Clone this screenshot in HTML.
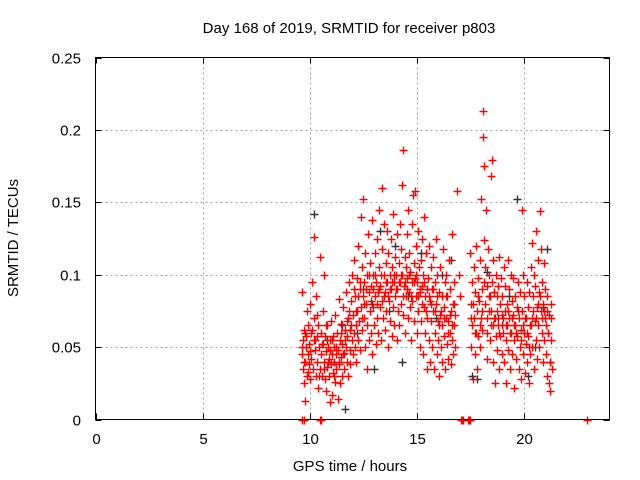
<!DOCTYPE html>
<html><head><meta charset="utf-8"><style>
body{margin:0;background:#fff;}
svg{display:block;font-family:"Liberation Sans",sans-serif;}
</style></head><body>
<svg id="chart" width="640" height="480" viewBox="0 0 640 480">
<rect width="640" height="480" fill="#fff"/>
<text x="349" y="33" font-size="15" text-anchor="middle">Day 168 of 2019, SRMTID for receiver p803</text>
<g id="grid"></g>
<g id="ticks"></g>
<g id="marks"></g>
<rect x="95.5" y="57.5" width="514" height="362" fill="none" stroke="#000" stroke-width="1"/>
<text x="350" y="471" font-size="15" text-anchor="middle">GPS time / hours</text>
<text x="0" y="0" font-size="15" text-anchor="middle" transform="translate(18,238) rotate(-90)">SRMTID / TECUs</text>
</svg>
<script>
const xTicks=[0,5,10,15,20];
const yTicks=[0,0.05,0.1,0.15,0.2,0.25];
const yTickLabels=["0","0.05","0.1","0.15","0.2","0.25"];
const redPoints=[
9.62,.045,9.65,.088,9.68,.035,9.70,.055,9.72,.025,9.75,.062,9.78,.04,9.8,.013,9.83,.05,9.86,.075,9.88,.03,9.9,.045,9.93,.065,9.96,.038,9.98,.052,10.0,.08,10.03,.028,10.05,.06,10.08,.042,10.1,.095,10.15,.035,10.18,.055,10.2,.126,10.22,.07,10.25,.048,10.28,.03,10.3,.085,10.33,.058,10.36,.04,10.38,.022,10.4,.065,10.43,.05,10.46,.112,10.48,.035,
10.52,.06,10.55,.045,10.58,.03,10.6,.075,10.63,.052,10.66,.04,10.68,.1,10.7,.028,10.73,.058,10.76,.047,10.78,.02,10.8,.036,10.83,.065,10.86,.05,10.88,.03,10.9,.042,10.93,.012,10.96,.055,10.98,.038,11.0,.068,11.03,.045,11.05,.017,11.08,.032,11.1,.058,11.12,.04,11.15,.05,11.18,.026,11.2,.072,11.22,.045,11.25,.035,11.28,.06,11.3,.014,11.33,.048,11.36,.083,11.38,.038,11.4,.055,11.43,.025,11.46,.066,11.48,.043,11.5,.052,11.53,.03,11.56,.078,11.58,.046,11.6,.035,11.63,.062,11.68,.05,11.7,.088,11.73,.04,11.76,.058,11.78,.03,11.8,.07,11.83,.095,11.86,.048,11.88,.062,11.9,.038,11.93,.082,11.96,.055,11.98,.1,
12.0,.045,12.03,.072,12.06,.06,12.08,.11,12.1,.05,12.13,.085,12.16,.065,12.18,.04,12.2,.098,12.23,.075,12.26,.055,12.28,.12,12.3,.068,12.33,.09,12.36,.048,12.38,.14,12.4,.078,12.43,.105,12.46,.062,12.48,.085,12.5,.152,12.53,.07,12.56,.095,12.58,.05,12.6,.115,12.63,.08,12.66,.035,12.68,.1,12.7,.065,12.73,.128,12.76,.088,12.78,.055,12.8,.075,12.83,.108,12.86,.06,12.88,.092,12.9,.045,12.93,.138,12.96,.078,12.98,.1,13.0,.065,13.03,.115,13.06,.085,13.08,.052,13.1,.095,13.13,.07,13.16,.125,13.18,.088,13.2,.06,13.23,.105,13.26,.145,13.28,.078,13.3,.092,13.33,.055,13.36,.118,13.38,.082,13.4,.16,13.43,.07,13.46,.1,13.48,.135,
13.5,.088,13.53,.062,13.56,.108,13.58,.075,13.6,.13,13.63,.095,13.66,.05,13.68,.115,13.7,.082,13.73,.1,13.76,.068,13.78,.125,13.8,.09,13.83,.058,13.86,.105,13.88,.078,13.9,.142,13.93,.095,13.96,.065,13.98,.112,14.0,.085,14.03,.1,14.06,.055,14.08,.128,14.1,.09,14.13,.075,14.16,.108,14.18,.065,14.2,.095,14.23,.135,14.26,.08,14.28,.118,14.3,.1,14.33,.162,14.36,.072,14.38,.186,14.4,.092,14.43,.112,14.46,.06,14.48,.105,14.5,.085,14.53,.128,14.56,.098,14.58,.07,14.6,.145,14.63,.088,14.66,.115,14.68,.078,14.7,.102,14.73,.055,14.76,.095,14.78,.135,14.8,.082,14.83,.155,14.86,.108,14.88,.068,14.9,.098,14.93,.158,14.96,.085,14.98,.12,15.0,.06,15.03,.095,15.06,.13,15.08,.075,15.1,.105,15.13,.05,15.16,.088,15.18,.11,15.2,.068,15.23,.125,15.26,.092,15.28,.045,15.3,.1,15.33,.078,15.36,.14,15.38,.085,15.4,.06,15.43,.115,15.46,.09,15.48,.035,
15.5,.07,15.53,.098,15.56,.055,15.58,.12,15.6,.082,15.63,.04,15.66,.105,15.68,.068,15.7,.09,15.73,.05,15.76,.112,15.78,.075,15.8,.035,15.83,.095,15.86,.06,15.88,.125,15.9,.08,15.93,.045,15.96,.1,15.98,.068,16.0,.055,16.03,.088,16.06,.03,16.08,.072,16.1,.105,16.13,.05,16.16,.085,16.18,.065,16.2,.04,16.23,.118,16.26,.078,16.28,.058,16.3,.095,16.33,.035,16.36,.07,16.38,.1,16.4,.052,16.43,.085,16.46,.042,16.48,.068,16.5,.11,16.53,.06,16.56,.09,16.58,.038,16.6,.075,16.63,.055,16.66,.128,16.68,.08,16.7,.045,16.73,.095,16.76,.065,16.78,.072,16.8,.05,
16.9,.158,16.95,.1,17.0,.085,
17.5,.115,17.52,.08,17.55,.05,17.58,.095,17.6,.065,17.63,.028,17.66,.105,17.68,.07,17.7,.045,17.73,.088,17.76,.06,17.78,.12,17.8,.075,17.83,.035,17.86,.098,17.88,.058,17.9,.082,17.93,.11,17.96,.05,17.98,.07,18.0,.152,18.03,.09,18.05,.062,18.08,.195,18.1,.213,18.12,.175,18.15,.124,18.18,.08,18.2,.105,18.23,.145,18.26,.06,18.28,.092,18.3,.042,18.33,.118,18.36,.075,18.38,.1,18.4,.055,18.43,.085,18.46,.168,18.48,.065,18.5,.179,18.53,.095,18.56,.04,18.58,.11,18.6,.07,18.63,.088,18.66,.025,18.68,.058,18.7,.1,18.73,.075,18.76,.048,18.78,.092,18.8,.065,18.83,.112,18.86,.035,18.88,.08,18.9,.058,18.93,.098,18.96,.072,18.98,.045,
19.0,.085,19.03,.06,19.06,.105,19.08,.04,19.1,.075,19.13,.092,19.16,.055,19.18,.025,19.2,.08,19.23,.065,19.26,.11,19.28,.048,19.3,.09,19.33,.07,19.36,.035,19.38,.1,19.4,.06,19.43,.082,19.46,.045,19.48,.072,19.5,.098,19.53,.055,19.56,.022,19.58,.085,19.6,.065,19.63,.042,19.68,.078,19.7,.058,19.73,.095,19.76,.035,19.78,.07,19.8,.05,19.83,.088,19.86,.062,19.88,.028,19.9,.145,19.93,.075,19.96,.045,19.98,.1,20.0,.06,20.03,.085,20.06,.032,20.08,.07,20.1,.052,20.13,.095,20.16,.04,20.18,.078,20.2,.058,20.23,.025,20.26,.088,20.28,.065,20.3,.045,20.33,.105,20.36,.07,20.38,.122,20.4,.05,20.43,.085,20.46,.035,20.48,.1,20.5,.068,20.53,.092,20.56,.055,20.58,.13,20.6,.078,20.63,.042,20.66,.11,20.68,.065,20.7,.088,20.73,.05,20.76,.144,20.78,.075,20.8,.118,20.83,.06,20.86,.095,20.88,.04,20.9,.08,20.93,.108,20.96,.055,20.98,.07,21.0,.09,21.03,.045,21.06,.075,21.08,.03,21.1,.085,21.13,.06,21.16,.025,21.18,.072,21.2,.04,21.23,.02,21.26,.08,21.28,.055,21.3,.035,
9.65,0,9.72,0,10.48,0,10.52,0,17.05,0,17.1,0,17.15,0,17.38,0,17.45,0,17.5,0,22.95,0];
const extraRed=[
9.66,.05,9.74,.04,9.82,.058,9.91,.033,10.02,.047,10.11,.062,10.27,.055,10.35,.072,10.44,.03,10.57,.052,10.65,.035,10.74,.065,10.85,.04,10.95,.048,11.06,.055,11.14,.03,11.24,.05,11.35,.04,11.44,.06,11.55,.045,11.64,.055,11.75,.068,11.85,.075,11.95,.065,12.05,.09,12.15,.075,12.25,.085,12.35,.095,12.45,.07,12.55,.08,12.65,.09,12.75,.1,12.85,.082,12.95,.09,13.05,.1,13.15,.08,13.25,.09,13.35,.1,13.45,.085,13.55,.095,13.65,.085,13.75,.09,13.85,.095,13.95,.1,14.05,.09,14.15,.095,14.25,.1,14.35,.085,14.45,.095,14.55,.09,14.65,.1,14.75,.085,14.85,.095,14.95,.1,15.05,.085,15.15,.09,15.25,.08,15.35,.095,15.45,.075,15.55,.085,15.65,.08,15.75,.09,15.85,.075,15.95,.085,16.05,.065,16.15,.075,16.25,.07,16.35,.085,16.45,.06,16.55,.072,16.65,.065,16.75,.08,17.54,.07,17.64,.08,17.74,.06,17.85,.085,17.95,.065,18.06,.075,18.16,.095,18.26,.07,18.36,.085,18.46,.075,18.56,.065,18.66,.07,18.76,.085,18.86,.06,18.96,.065,19.05,.07,19.15,.065,19.25,.075,19.35,.06,19.45,.07,19.55,.065,19.65,.06,19.75,.075,19.85,.055,19.95,.065,20.05,.07,20.15,.06,20.25,.05,20.35,.065,20.45,.075,20.55,.07,20.65,.08,20.75,.085,20.85,.07,20.95,.075,21.05,.065,21.15,.06,21.25,.07];
const blackPoints=[10.18,.142,11.66,.007,19.66,.152,21.1,.118,13.3,.13,14.0,.12,12.5,.09,15.5,.09,16.2,.1,18.8,.07,20.5,.05,17.8,.028,11.5,.065,10.8,.055,14.6,.085,15.9,.07,13.7,.075,20.9,.078,12.2,.06,19.3,.085,16.6,.11,18.3,.102,21.2,.04,9.8,.06,14.3,.04,13.0,.035,20.2,.03,17.6,.03,15.2,.115,12.9,.08];
const X0=95.5,X1=609.5,Y0=419.5,Y1=57.5,XMAX=24,YMAX=0.25;
function xs(t){return X0+(X1-X0)*t/XMAX;}
function ys(v){return Y0-(Y0-Y1)*v/YMAX;}
const NS="http://www.w3.org/2000/svg";
const grid=document.getElementById('grid'),ticks=document.getElementById('ticks'),marks=document.getElementById('marks');
function line(g,x1,y1,x2,y2,st,dash){const l=document.createElementNS(NS,'line');l.setAttribute('x1',x1);l.setAttribute('y1',y1);l.setAttribute('x2',x2);l.setAttribute('y2',y2);l.setAttribute('stroke',st);if(dash)l.setAttribute('stroke-dasharray',dash);g.appendChild(l);return l;}
function txt(s,x,y,anchor,name){const t=document.createElementNS(NS,'text');t.setAttribute('x',x);t.setAttribute('y',y);t.setAttribute('font-size','15');t.setAttribute('text-anchor',anchor);t.textContent=s;


ticks.appendChild(t);}
xTicks.forEach(t=>{const x=Math.round(xs(t))+0.5;
if(t>0&&t<XMAX)line(grid,x,Y1,x,Y0,'#a0a0a0','2,3');
line(ticks,x,Y0,x,Y0-6,'#000');line(ticks,x,Y1,x,Y1+6,'#000');
txt(String(t),x,444,'middle','x-tick-label');});
yTicks.forEach((v,i)=>{const y=Math.round(ys(v))+0.5;
if(v>0&&v<YMAX)line(grid,X0,y,X1,y,'#a0a0a0','2,3');
line(ticks,X0,y,X0+6,y,'#000');line(ticks,X1,y,X1-6,y,'#000');
txt(yTickLabels[i],81,y+5,'end','y-tick-label');});
function plus(t,v,col,name){const x=Math.round(xs(t))+0.5,y=Math.round(ys(v))+0.5;const p=document.createElementNS(NS,'path');
p.setAttribute('d',`M${x-4},${y}H${x+4}M${x},${y-4}V${y+4}`);p.setAttribute('stroke',col);p.setAttribute('stroke-width','1.4');


marks.appendChild(p);}
for(let i=0;i<blackPoints.length;i+=2)plus(blackPoints[i],blackPoints[i+1],'#333','black-point');
for(let i=0;i<extraRed.length;i+=2)plus(extraRed[i],extraRed[i+1],'#f00','red-point');
for(let i=0;i<redPoints.length;i+=2)plus(redPoints[i],redPoints[i+1],'#f00','red-point');
</script>
</body></html>
